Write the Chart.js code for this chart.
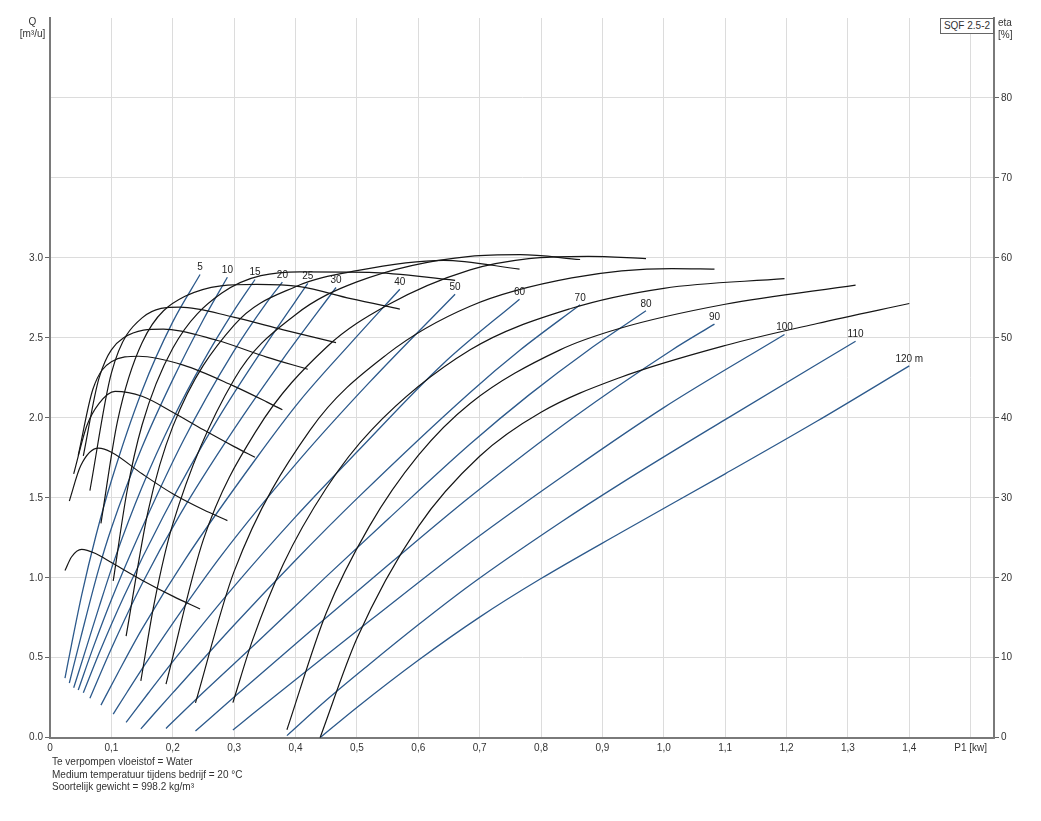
<!DOCTYPE html>
<html>
<head>
<meta charset="utf-8">
<script src="https://cdn.jsdelivr.net/npm/chart.js@4.4.1/dist/chart.umd.min.js"></script>
<style>
    body { margin: 0; background: #fff; font-family: "Liberation Sans", Arial, sans-serif; }
    #wrap { position: relative; width: 1041px; height: 821px; }
    .txt { position: absolute; font-size: 10px; color: #333; line-height: 12px; white-space: nowrap; }
    .box { position: absolute; left: 940px; top: 18px; width: 52px; height: 14px; border: 1px solid #666;
           background: #fff; font-size: 10px; line-height: 14px; text-align: center; color: #333; }
</style>
</head>
<body>
<div id="wrap">
    <canvas id="pumpChart" width="1041" height="821"></canvas>
    <div class="txt" style="left:12px; top:16px; width:41px; text-align:center;">Q<br>[m³/u]</div>
    <div class="txt" style="left:998px; top:17px;">eta<br>[%]</div>
    <div class="box">SQF 2.5-2</div>
    <div class="txt" style="left:52px; top:756px; line-height:12.5px;">
        Te verpompen vloeistof = Water<br>
        Medium temperatuur tijdens bedrijf = 20 °C<br>
        Soortelijk gewicht = 998.2 kg/m³
    </div>
</div>
<script>
// opvoerhoogte per curve (m)
const heads = [5, 10, 15, 20, 25, 30, 40, 50, 60, 70, 80, 90, 100, 110, 120];
const headLabels = ['5', '10', '15', '20', '25', '30', '40', '50', '60', '70', '80', '90', '100', '110', '120 m'];

// P1 [kW] sample points per head
const powerP1 = [
    [0.0244, 0.035, 0.0516, 0.075, 0.1, 0.15, 0.2, 0.2445],
    [0.0315, 0.05, 0.079, 0.1, 0.15, 0.2, 0.25, 0.289],
    [0.0386, 0.06, 0.08, 0.106, 0.15, 0.2, 0.25, 0.3, 0.334],
    [0.046, 0.07, 0.1, 0.144, 0.2173, 0.2988, 0.353, 0.3786],
    [0.0543, 0.08, 0.12, 0.1847, 0.2716, 0.353, 0.42],
    [0.065, 0.1, 0.15, 0.212, 0.2988, 0.3803, 0.466],
    [0.083, 0.11, 0.15, 0.22, 0.337, 0.407, 0.49, 0.57],
    [0.103, 0.125, 0.15, 0.2, 0.28, 0.407, 0.52, 0.66],
    [0.124, 0.16, 0.2, 0.3, 0.4, 0.5, 0.641, 0.765],
    [0.148, 0.17, 0.2, 0.3, 0.4, 0.5, 0.6845, 0.766, 0.8637],
    [0.189, 0.25, 0.337, 0.45, 0.55, 0.6845, 0.78, 0.877, 0.971],
    [0.237, 0.3, 0.424, 0.55, 0.6845, 0.85, 1.013, 1.0826],
    [0.298, 0.33, 0.38, 0.45, 0.524, 0.6845, 0.85, 1.0, 1.1967],
    [0.386, 0.45, 0.52, 0.6, 0.6845, 0.831, 0.929, 1.1, 1.3125],
    [0.44, 0.5, 0.6, 0.7, 0.8, 0.929, 1.1, 1.25, 1.4]
];

// Q [m3/u] at those points (blue lines)
const flowQ = [
    [0.373, 0.581, 0.892, 1.266, 1.607, 2.17, 2.6, 2.896],
    [0.342, 0.624, 1.049, 1.31, 1.817, 2.239, 2.615, 2.879],
    [0.312, 0.5725, 0.818, 1.123, 1.567, 1.991, 2.355, 2.672, 2.865],
    [0.298, 0.56, 0.863, 1.26, 1.858, 2.412, 2.72, 2.848],
    [0.281, 0.528, 0.88, 1.385, 1.981, 2.466, 2.84],
    [0.246, 0.5575, 0.9625, 1.3965, 1.923, 2.372, 2.815],
    [0.204, 0.40, 0.68, 1.114, 1.752, 2.106, 2.467, 2.804],
    [0.148, 0.281, 0.43, 0.715, 1.143, 1.74, 2.22, 2.773],
    [0.096, 0.278, 0.476, 0.946, 1.381, 1.786, 2.34, 2.742],
    [0.055, 0.151, 0.28, 0.705, 1.11, 1.495, 2.159, 2.424, 2.707],
    [0.058, 0.284, 0.595, 1.007, 1.364, 1.836, 2.142, 2.423, 2.669],
    [0.042, 0.254, 0.666, 1.076, 1.506, 1.994, 2.423, 2.586],
    [0.048, 0.148, 0.302, 0.516, 0.740, 1.219, 1.674, 2.064, 2.521],
    [0.013, 0.234, 0.458, 0.706, 0.955, 1.344, 1.587, 1.989, 2.479],
    [0, 0.189, 0.484, 0.754, 0.995, 1.28, 1.65, 1.98, 2.325]
];

// eta [%] at those points (black curves)
const effEta = [
    [20.9, 22.6, 23.55, 23.0, 21.9, 19.7, 17.7, 16.1],
    [29.6, 34.0, 36.2, 35.7, 33.0, 30.5, 28.5, 27.15],
    [33.0, 39.0, 41.8, 43.3, 42.7, 40.7, 38.5, 36.4, 35.06],
    [35.3, 43.6, 47.0, 47.7, 46.6, 44.0, 42.0, 41.0],
    [35.25, 45.0, 50.0, 51.1, 49.7, 47.6, 46.07],
    [30.9, 45.6, 52.5, 53.85, 52.6, 51.0, 49.4],
    [26.8, 39.6, 49.4, 55.2, 56.7, 56.4, 54.9, 53.6],
    [19.6, 30.6, 39.1, 48.7, 55.6, 58.25, 58.2, 57.2],
    [12.7, 28.4, 38.9, 51.6, 56.4, 58.4, 59.7, 58.6],
    [7.1, 16.9, 26.7, 44.8, 52.9, 57.0, 60.2, 60.4, 59.8],
    [6.7, 24.8, 38.5, 48.8, 54.1, 58.5, 59.9, 60.2, 59.9],
    [4.35, 20.8, 38.5, 48.0, 53.96, 57.5, 58.66, 58.6],
    [4.39, 12.2, 21.7, 31.2, 38.5, 48.5, 53.7, 56.2, 57.4],
    [1.0, 15.6, 26.4, 35.3, 41.8, 48.5, 51.2, 54.2, 56.6],
    [0, 12.4, 26.4, 35.2, 40.7, 45.05, 49.05, 51.8, 54.3]
];

const pTicks = [0, 0.1, 0.2, 0.3, 0.4, 0.5, 0.6, 0.7, 0.8, 0.9, 1.0, 1.1, 1.2, 1.3, 1.4, 1.5];
const pTickLabels = ['0', '0,1', '0,2', '0,3', '0,4', '0,5', '0,6', '0,7', '0,8', '0,9', '1,0', '1,1', '1,2', '1,3', '1,4', 'P1 [kw]'];
const qTicks = [0, 0.5, 1.0, 1.5, 2.0, 2.5, 3.0, 3.5, 4.0];
const qTickLabels = ['0.0', '0.5', '1.0', '1.5', '2.0', '2.5', '3.0', '', ''];
const etaTicks = [0, 10, 20, 30, 40, 50, 60, 70, 80];
const etaTickLabels = ['0', '10', '20', '30', '40', '50', '60', '70', '80'];

const BLUE = '#2d5a8c';
const BLACK = '#161616';
const GRID = '#dcdcdc';
const AXIS = '#7a7a7a';
const FONT = '"Liberation Sans", Arial, sans-serif';

const datasets = [];
heads.forEach(function (h, i) {
    datasets.push({
        data: powerP1[i].map(function (p, j) { return { x: p, y: effEta[i][j] }; }),
        yAxisID: 'eta',
        borderColor: BLACK,
        borderWidth: 1.2
    });
});
heads.forEach(function (h, i) {
    datasets.push({
        data: powerP1[i].map(function (p, j) { return { x: p, y: flowQ[i][j] }; }),
        yAxisID: 'q',
        borderColor: BLUE,
        borderWidth: 1.3,
        endLabel: headLabels[i]
    });
});

// head labels at the top end of each blue line
const headLabelPlugin = {
    id: 'headLabels',
    afterDatasetsDraw: function (chart) {
        const ctx = chart.ctx;
        ctx.save();
        ctx.font = '10px ' + FONT;
        ctx.fillStyle = '#222';
        ctx.textAlign = 'center';
        ctx.textBaseline = 'middle';
        chart.data.datasets.forEach(function (ds, i) {
            if (!ds.endLabel) return;
            const pts = chart.getDatasetMeta(i).data;
            const last = pts[pts.length - 1];
            ctx.fillText(ds.endLabel, last.x, last.y - 7);
        });
        ctx.restore();
    }
};

function fixedTicks(values) {
    return function (scale) { scale.ticks = values.map(function (v) { return { value: v }; }); };
}

new Chart(document.getElementById('pumpChart'), {
    type: 'line',
    data: { datasets: datasets },
    plugins: [headLabelPlugin],
    options: {
        responsive: false,
        animation: false,
        devicePixelRatio: 1,
        layout: { padding: { top: 18, left: 0, right: 0, bottom: 0 } },
        elements: {
            point: { radius: 0, hoverRadius: 0 },
            line: { cubicInterpolationMode: 'monotone', fill: false }
        },
        plugins: { legend: { display: false }, tooltip: { enabled: false } },
        scales: {
            x: {
                type: 'linear', min: 0, max: 1.538,
                afterBuildTicks: fixedTicks(pTicks),
                afterFit: function (s) { s.height = 83.3; },
                grid: { color: GRID, drawTicks: false },
                border: { color: AXIS, width: 2 },
                ticks: {
                    callback: function (v, i) { return pTickLabels[i]; },
                    padding: 5, color: '#333', font: { size: 10, family: FONT },
                    maxRotation: 0, autoSkip: false
                }
            },
            q: {
                type: 'linear', position: 'left', min: 0, max: 4.5,
                afterBuildTicks: fixedTicks(qTicks),
                afterFit: function (s) { s.width = 50; },
                grid: {
                    color: GRID, tickLength: 5,
                    tickColor: function (c) { return c.tick && c.tick.value > 3.01 ? 'rgba(0,0,0,0)' : '#666'; }
                },
                border: { color: AXIS, width: 2 },
                ticks: {
                    callback: function (v, i) { return qTickLabels[i]; },
                    padding: 2, color: '#333', font: { size: 10, family: FONT }, autoSkip: false
                }
            },
            eta: {
                type: 'linear', position: 'right', min: 0, max: 90,
                afterBuildTicks: fixedTicks(etaTicks),
                afterFit: function (s) { s.width = 47; },
                grid: { drawOnChartArea: false, tickLength: 5, tickColor: '#666' },
                border: { color: AXIS, width: 2 },
                ticks: {
                    callback: function (v, i) { return etaTickLabels[i]; },
                    padding: 2, color: '#333', font: { size: 10, family: FONT }, autoSkip: false
                }
            }
        }
    }
});
</script>
</body>
</html>
